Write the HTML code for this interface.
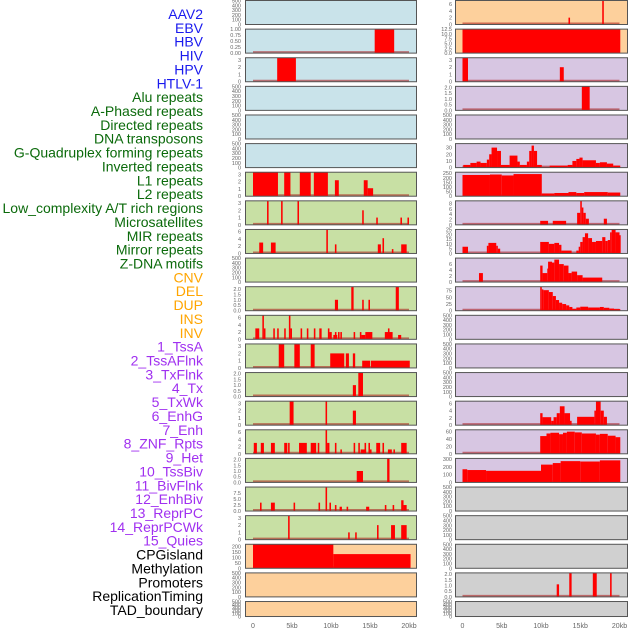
<!DOCTYPE html>
<html><head><meta charset="utf-8"><style>
html,body{margin:0;padding:0;background:#fff;width:630px;height:630px;overflow:hidden}
svg{display:block}
</style></head><body>
<svg id="chart" width="630" height="630" xmlns="http://www.w3.org/2000/svg"></svg>
<script>
const labels = ["AAV2","EBV","HBV","HIV","HPV","HTLV-1","Alu repeats","A-Phased repeats","Directed repeats","DNA transposons","G-Quadruplex forming repeats","Inverted repeats","L1 repeats","L2 repeats","Low_complexity A/T rich regions","Microsatellites","MIR repeats","Mirror repeats","Z-DNA motifs","CNV","DEL","DUP","INS","INV","1_TssA","2_TssAFlnk","3_TxFlnk","4_Tx","5_TxWk","6_EnhG","7_Enh","8_ZNF_Rpts","9_Het","10_TssBiv","11_BivFlnk","12_EnhBiv","13_ReprPC","14_ReprPCWk","15_Quies","CPGisland","Methylation","Promoters","ReplicationTiming","TAD_boundary"];
const labelGroups = [6,13,5,15,5];
const groupColors = ["#1a1aee","#0b6a0b","#ffa500","#a030f0","#000000"];
const xTicks = [0,5,10,15,20];
const xTickLabels = ["0","5kb","10kb","15kb","20kb"];
const leftBg = ["#c9e3ea","#c9e3ea","#c9e3ea","#c9e3ea","#c9e3ea","#c9e3ea","#c8e0a4","#c8e0a4","#c8e0a4","#c8e0a4","#c8e0a4","#c8e0a4","#c8e0a4","#c8e0a4","#c8e0a4","#c8e0a4","#c8e0a4","#c8e0a4","#c8e0a4","#fdd09c","#fdd09c","#fdd09c"];
const rightBg = ["#fdd09c","#fdd09c","#d7c6e2","#d7c6e2","#d7c6e2","#d7c6e2","#d7c6e2","#d7c6e2","#d7c6e2","#d7c6e2","#d7c6e2","#d7c6e2","#d7c6e2","#d7c6e2","#d7c6e2","#d7c6e2","#d7c6e2","#d0d0d0","#d0d0d0","#d0d0d0","#d0d0d0","#d0d0d0"];
const T500=[0,100,200,300,400,500];
const leftMax = [500,1,3.3,500,500,500,3.3,3.3,6.6,500,2.2,6.6,3.3,2.1,3.3,6.6,2.1,10,3.3,220,500,500];
const leftTicks = [T500,[0,0.25,0.5,0.75,1],[0,1,2,3],T500,T500,T500,[0,1,2,3],[0,1,2,3],[0,2,4,6],T500,[0,0.5,1,1.5,2],[0,2,4,6],[0,1,2,3],[0,0.5,1,1.5,2],[0,1,2,3],[0,2,4,6],[0,0.5,1,1.5,2],[0,2.5,5,7.5],[0,1,2,3],[0,50,100,150,200],T500,T500];
const rightMax = [7,12.5,3.3,2.1,500,36,260,9,25,8,90,500,500,500,6.6,65,310,500,500,500,2.1,500];
const rightTicks = [[0,2,4,6],[0,2.5,5,7.5,10,12.5],[0,1,2,3],[0,0.5,1,1.5,2],T500,[0,10,20,30],[0,50,100,150,200,250],[0,2,4,6,8],[0,5,10,15,20,25],[0,2,4,6],[0,25,50,75],T500,T500,T500,[0,2,4,6],[0,20,40,60],[0,100,200,300],T500,T500,T500,[0,0.5,1,1.5,2],T500];
// bars: [startKb, endKb, value]
const leftBars = [
 [],
 [[15.6,18.1,1]],
 [[3.1,5.5,3.3]],
 [],[],[],
 [[0,3.2,3.3],[4.0,4.8,3.3],[6.0,7.4,3.3],[7.8,9.6,3.3],[10.5,11.0,2.2],[14.2,14.7,2.2],[14.7,15.4,1.1]],
 [[1.8,2.0,3.3],[3.6,3.8,3.3],[5.7,5.9,3.3],[14.0,14.2,2],[15.8,16.0,1],[18.9,19.1,1],[19.8,20.0,1]],
 [[0.8,1.3,3],[2.3,2.9,3],[9.4,9.6,6.6],[10.5,10.7,2.5],[16.0,16.4,2.5],[16.6,16.8,4.2],[17.8,18.0,1.2],[19.0,19.7,2.5]],
 [],
 [[10.5,10.9,1],[12.6,12.9,2.2],[14.0,14.2,1],[14.8,15.0,1],[18.3,18.7,2.2]],
 [[0.3,0.8,3],[1.2,1.4,6.6],[1.4,1.6,3],[2.6,2.8,3],[3.1,3.3,3],[4.0,4.2,3],[4.6,4.8,6.6],[4.8,5.0,3],[6.1,6.3,3],[6.9,7.1,3],[7.8,8.0,3],[8.5,8.8,3],[9.6,9.8,3],[9.8,10.1,2],[10.3,10.8,1.2],[10.5,10.7,2],[10.9,11.1,2],[11.2,11.4,2],[12.9,13.1,2],[13.7,13.9,2],[13.9,14.4,1.2],[14.4,15.3,2],[16.9,17.9,2],[17.3,17.5,3],[18.6,19.0,1.2]],
 [[3.3,4.0,3.3],[5.3,6.0,3.3],[7.4,7.9,3.3],[9.9,11.7,2],[11.9,12.3,2],[12.8,13.1,2],[14.0,15.0,1],[15.1,20.1,1]],
 [[12.8,13.2,1],[13.5,14.1,2.1]],
 [[4.7,5.2,3.3],[9.3,9.5,3.3],[12.8,13.2,2]],
 [[0.1,0.5,3],[1.0,1.4,3],[2.3,2.8,3],[4.0,4.4,3],[4.5,4.7,3],[5.9,6.9,3],[7.4,8.1,3],[8.3,8.5,3],[9.3,9.5,6.6],[9.5,9.8,3],[10.5,10.7,3],[11.2,11.4,1.2],[12.9,13.1,3],[13.5,13.7,3],[13.8,14.5,1.2],[14.3,14.5,3],[14.8,15.0,3],[15.0,15.2,1.2],[15.8,16.3,3],[16.6,16.8,3],[17.3,17.8,1.2],[18.0,18.2,1.2],[19.0,19.7,3]],
 [[13.3,14.1,1],[17.2,17.5,2.1]],
 [[0.9,1.1,3.5],[2.3,2.8,3.5],[5.2,5.4,3.5],[8.4,8.6,3.5],[9.3,9.5,10],[9.8,10.0,3.5],[10.5,10.7,2.5],[11.1,11.4,1.8],[12.0,12.2,1.8],[14.5,14.9,1.8],[16.9,17.1,2.5],[17.9,18.1,2.5],[19.0,19.3,4.5],[19.3,19.7,2.5]],
 [[4.5,4.7,3.3],[12.2,12.4,1],[13.1,13.3,1],[15.9,16.1,2],[17.7,18.2,2],[19.0,19.7,2]],
 [[0,10.3,220],[10.3,20.2,130]],
 [],[]
];
const rightBars = [
 [[13.5,13.7,2],[17.8,18.0,7]],
 [[0,20.1,12.5]],
 [[0,0.7,3.3],[12.4,12.9,2]],
 [[15.2,16.2,2.1]],
 [],
 [[0.1,1.0,4],[1.0,1.8,7],[1.8,2.3,9],[2.3,3.1,7],[3.1,3.4,12],[3.4,3.7,20],[3.7,4.4,30],[4.4,4.9,25],[4.9,6.0,4],[6.0,7.0,18],[7.0,7.3,9],[7.3,8.2,4],[8.2,8.5,9],[8.5,8.8,25],[8.8,9.1,33],[9.1,9.5,25],[9.5,10.1,4],[10.1,11.1,1],[11.1,13.4,3],[13.4,14.0,4],[14.0,14.5,10],[14.5,14.9,13],[14.9,15.3,15],[15.3,17.0,11],[17.0,17.5,7],[17.5,18.4,8],[18.4,19.2,6],[19.2,20.1,3]],
 [[0,3.5,230],[3.5,5,235],[5,6.5,225],[6.5,10.1,240],[10.1,11.7,30],[11.7,13.5,35],[13.5,14.5,45],[14.5,15.5,35],[15.5,18.5,45],[18.5,20.1,40]],
 [[9.9,10.9,1.5],[11.5,13.2,1.5],[14.6,15.0,4.5],[15.0,15.2,9],[15.2,15.4,6.5],[15.4,15.7,4.5],[15.7,16.1,2.3],[18.0,18.4,2.3]],
 [[0,0.7,7],[3.1,3.3,8],[3.3,4.3,11],[4.3,4.5,8],[4.5,4.8,5],[9.9,11.0,12],[11.0,11.7,10],[11.7,12.3,11],[12.3,12.6,9],[12.6,13.9,3],[14.5,14.8,3],[14.8,15.0,7],[15.0,15.3,12],[15.3,15.6,17],[15.6,16.0,21],[16.0,16.5,16],[16.5,17.0,12],[17.0,17.8,13],[17.8,18.2,17],[18.2,18.5,13],[18.5,18.8,14],[18.8,19.0,22],[19.0,19.5,25],[19.5,20.0,22],[20.0,20.1,19]],
 [[2.1,2.6,3],[9.9,10.2,5.5],[10.2,10.8,3],[10.8,10.9,4.5],[10.9,11.4,6.8],[11.4,11.7,6.5],[11.7,12.3,7.5],[12.3,12.9,6],[12.9,13.5,5.5],[13.5,13.9,3],[13.9,14.6,3.5],[14.6,15.3,2.3],[15.3,17.8,1.5]],
 [[9.9,10.1,90],[10.1,10.3,80],[10.3,11.0,77],[11.0,11.5,70],[11.5,11.9,55],[11.9,12.3,40],[12.3,12.7,30],[12.7,13.2,25],[13.2,13.6,20],[13.6,14.0,14],[14.0,14.5,7],[14.5,15.0,12],[15.0,16.0,15],[16.0,17.5,12],[17.5,18.0,14],[18.0,18.7,11],[18.7,19.3,8],[19.3,20.1,6]],
 [],[],[],
 [[9.9,10.2,3.3],[10.2,11.3,2.2],[11.3,11.6,1.2],[11.6,12.0,2.2],[12.0,12.4,3.3],[12.4,13.0,5.2],[13.0,13.7,3.3],[13.7,13.9,1.2],[14.6,16.8,2.3],[16.8,17.0,4],[17.0,17.6,6.6],[17.6,18.0,4],[18.0,18.4,2.3]],
 [[9.9,10.7,48],[10.7,11.2,55],[11.2,12.3,57],[12.3,12.8,53],[12.8,13.3,57],[13.3,14.3,60],[14.3,15.2,58],[15.2,17.0,55],[17.0,17.5,52],[17.5,18.5,54],[18.5,19.5,49],[19.5,20.1,45]],
 [[0,0.6,170],[0.6,3.0,160],[3.0,10.0,150],[10.0,11.5,230],[11.5,12.5,250],[12.5,15,275],[15,17.5,270],[17.5,20.1,285]],
 [],[],[],
 [[12.0,12.3,1.1],[13.6,13.9,2.1],[16.6,17.1,2.1],[18.8,19.0,2.1]],
 []
];

const NS="http://www.w3.org/2000/svg";
const svg=document.getElementById('chart');
function mk(tag,attrs,parent){const e=document.createElementNS(NS,tag);for(const k in attrs)e.setAttribute(k,attrs[k]);(parent||svg).appendChild(e);return e;}
function rowTop(i){return 0.5+i*28.62;}
function rowH(i){return i===21?15:24;}
const cols=[{x0:245.5,x1:416.5,z:253,s:7.8,tickR:241,bg:leftBg,max:leftMax,ticks:leftTicks,bars:leftBars,name:'left'},
            {x0:455.5,x1:627.5,z:462.5,s:7.85,tickR:452,bg:rightBg,max:rightMax,ticks:rightTicks,bars:rightBars,name:'right'}];
function fmt(v,ticks){const dec=ticks.some(t=>Math.abs(t*4-Math.round(t*4))<1e-9&&t%0.5!==0)?2:(ticks.some(t=>t%1!==0)?1:0);return v.toFixed(dec);}

let li=0;
labelGroups.forEach((n,g)=>{for(let k=0;k<n;k++){
  const t=mk('text',{x:203,y:19+li*(596/43),'text-anchor':'end','font-family':'Liberation Sans, sans-serif','font-size':'14',fill:groupColors[g]});
  t.textContent=labels[li];
  
  
  li++;}});

cols.forEach(c=>{
  for(let i=0;i<22;i++){
    const top=rowTop(i),h=rowH(i),bot=top+h;
    const g=mk('g',{});
    
    
    mk('rect',{x:c.x0,y:top,width:c.x1-c.x0,height:h,fill:c.bg[i]},g);
    const ymax=c.max[i];
    const ys=v=>bot-v/ymax*h;
    const xs=kb=>c.z+kb*c.s;
    if(c.bars[i].length){
      const bl=mk('line',{x1:xs(0),x2:xs(20),y1:bot-1,y2:bot-1,stroke:'rgba(170,20,20,0.55)','stroke-width':2},g);
      
      
    }
    c.bars[i].forEach(b=>{
      const y=Math.max(top,ys(b[2]));
      const r=mk('rect',{x:xs(b[0]),y:y,width:Math.max(1.2,xs(b[1])-xs(b[0])),height:bot-y,fill:'#ff0000'},g);
      
      
    });
    mk('rect',{x:c.x0,y:top,width:c.x1-c.x0,height:h,fill:'none',stroke:'#555','stroke-width':1},g);
    c.ticks[i].forEach(v=>{
      const t=mk('text',{x:c.tickR,y:ys(v)+2,'text-anchor':'end','font-family':'Liberation Sans, sans-serif','font-size':'5.5',fill:'#666'},g);
      t.textContent=fmt(v,c.ticks[i]);
      
      
    });
  }
  xTicks.forEach((v,k)=>{
    const t=mk('text',{x:c.z+v*c.s,y:628,'text-anchor':'middle','font-family':'Liberation Sans, sans-serif','font-size':'7',fill:'#666'});
    t.textContent=xTickLabels[k];
    
    
  });
});
</script>
</body></html>
